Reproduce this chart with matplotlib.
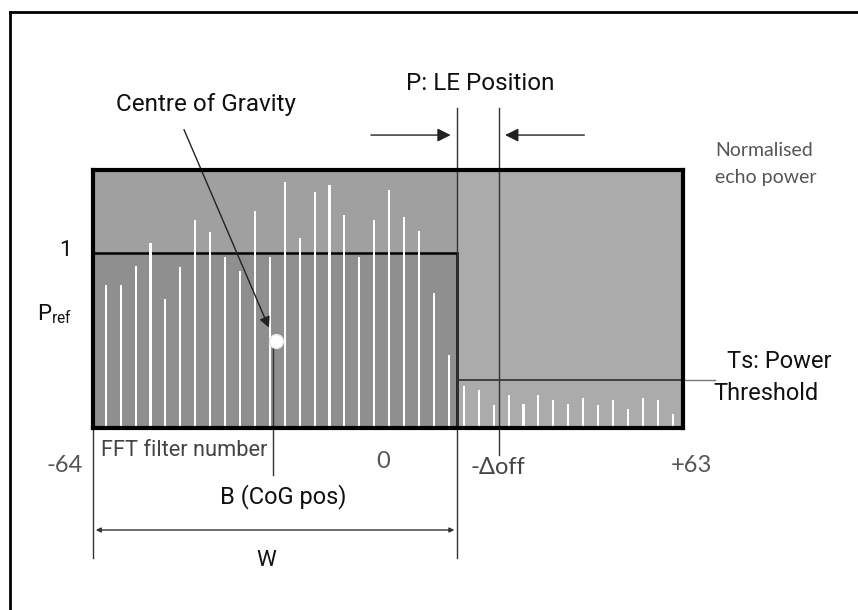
import numpy as np
import matplotlib.pyplot as plt
from matplotlib.patches import Rectangle

# ===============================
# Data (normalised echo power per displayed FFT line)
# ===============================
power_left = [0.82, 0.82, 0.93, 1.06, 0.74, 0.92, 1.19, 1.12, 0.98, 0.90,
              1.24, 0.98, 1.41, 1.09, 1.35, 1.39, 1.22, 0.98, 1.19, 1.36,
              1.21, 1.13, 0.77, 0.42]
power_right = [0.24, 0.22, 0.13, 0.19, 0.14, 0.19, 0.16, 0.14, 0.17, 0.13,
               0.16, 0.11, 0.17, 0.16, 0.08]

FILTER_MIN, FILTER_MAX = -64, 64
BOX_TOP = 1.477          # top of the window in normalised power
P_REF = 1.0              # reference power level
THRESHOLD = 0.275        # Ts
LE_POS = 15              # P: leading edge position
DELTA_OFF = 24           # -Δoff marker
COG_POS = -25            # B: centre of gravity
COG_POWER = 0.50
BAR_START, BAR_STEP = -61.24, 3.237

powers = power_left + power_right
bar_x = BAR_START + BAR_STEP * np.arange(len(powers))

# ===============================
# Figure
# ===============================
fig = plt.figure(figsize=(8.58, 6.10), dpi=100)

# overlay in pixel coordinates for labels / frame
ov = fig.add_axes([0, 0, 1, 1])
ov.set_xlim(0, 858)
ov.set_ylim(610, 0)
ov.axis('off')

# data axes for the echo window
ax = fig.add_axes([93 / 858, (610 - 428) / 610, 590 / 858, 258 / 610])
ax.set_xlim(FILTER_MIN, FILTER_MAX)
ax.set_ylim(0, BOX_TOP)
ax.set_xticks([])
ax.set_yticks([])
ax.set_facecolor('#ababab')
for s in ax.spines.values():
    s.set_linewidth(3)
    s.set_color('black')
    s.set_zorder(10)

ax.add_patch(Rectangle((FILTER_MIN, 0), LE_POS - FILTER_MIN, BOX_TOP,
                       facecolor='#a0a0a0', edgecolor='none', zorder=1))
ax.add_patch(Rectangle((FILTER_MIN, 0), LE_POS - FILTER_MIN, P_REF,
                       facecolor='#8f8f8f', edgecolor='black', lw=1.8, zorder=2))

ax.bar(bar_x, powers, width=0.45, color='white', edgecolor='none', zorder=3)

# threshold line
ax.plot([LE_POS, FILTER_MAX], [THRESHOLD, THRESHOLD], color='#303030', lw=1.2, zorder=4)
ax.plot([FILTER_MAX, 71], [THRESHOLD, THRESHOLD], color='#777777', lw=1, clip_on=False)

# vertical markers
ax.plot([LE_POS, LE_POS], [-0.744, 1.832], color='#333333', lw=1, clip_on=False, zorder=5)
ax.plot([DELTA_OFF, DELTA_OFF], [-0.155, 1.832], color='#333333', lw=1, clip_on=False, zorder=5)
ax.plot([FILTER_MIN, FILTER_MIN], [-0.744, 0], color='#333333', lw=1, clip_on=False)
ax.plot([COG_POS, COG_POS], [-0.27, COG_POWER], color='#333333', lw=1, clip_on=False, zorder=5)
ax.scatter([COG_POS + 0.6], [COG_POWER], s=100, color='white', edgecolor='#e8e8e8', zorder=6)

# W span arrow
ax.annotate('', xy=(LE_POS, -0.584), xytext=(FILTER_MIN, -0.584),
            arrowprops=dict(arrowstyle='<|-|>', color='#333333', lw=1, mutation_scale=7),
            annotation_clip=False)

# centre of gravity pointer
ax.annotate('', xy=(COG_POS - 0.6, COG_POWER + 0.06), xytext=(-44.5, 1.723),
            arrowprops=dict(arrowstyle='-|>', color='#222222', lw=1, mutation_scale=16),
            annotation_clip=False)

# LE position arrows
ax.annotate('', xy=(LE_POS - 0.8, 1.677), xytext=(-4.3, 1.677),
            arrowprops=dict(arrowstyle='-|>', color='#222222', lw=1, mutation_scale=20),
            annotation_clip=False)
ax.annotate('', xy=(DELTA_OFF + 0.8, 1.677), xytext=(43.2, 1.677),
            arrowprops=dict(arrowstyle='-|>', color='#222222', lw=1, mutation_scale=20),
            annotation_clip=False)

# outer frame
ov.plot([10, 858], [12, 12], color='black', lw=2)
ov.plot([10, 10], [12, 610], color='black', lw=2)

lab = ['Roboto', 'DejaVu Sans']
num = ['Lato', 'DejaVu Sans']
ov.text(480, 83, 'P: LE Position', fontsize=17.5, family=lab, ha='center', va='center', color='#111111')
ov.text(206, 105, 'Centre of Gravity', fontsize=17.5, family=lab, ha='center', va='center', color='#111111')
ov.text(715, 150, 'Normalised', fontsize=14, family=num, ha='left', va='center', color='#555555')
ov.text(715, 178, 'echo power', fontsize=14, family=num, ha='left', va='center', color='#555555')
ov.text(65, 251, '1', fontsize=16, family=lab, ha='center', va='center', color='#111111')
ov.text(37, 314, r'P$_{\mathregular{ref}}$', fontsize=16, family=lab, ha='left', va='center', color='#111111')
ov.text(727, 362, 'Ts: Power', fontsize=17, family=lab, ha='left', va='center', color='#111111')
ov.text(713, 394, 'Threshold', fontsize=17, family=lab, ha='left', va='center', color='#111111')
ov.text(101, 450, 'FFT filter number', fontsize=15.7, family=lab, ha='left', va='center', color='#444444')
ov.text(65, 465, '-64', fontsize=17, family=num, ha='center', va='center', color='#555555')
ov.text(383, 462, '0', fontsize=17, family=num, ha='center', va='center', color='#555555')
ov.text(470, 468, '-Δoff', fontsize=17, family=num, ha='left', va='center', color='#444444')
ov.text(691, 465, '+63', fontsize=17, family=num, ha='center', va='center', color='#555555')
ov.text(283, 497, 'B (CoG pos)', fontsize=17, family=lab, ha='center', va='center', color='#111111')
ov.text(266, 560, 'W', fontsize=16, family=lab, ha='center', va='center', color='#111111')

fig.savefig('out.png', dpi=100, facecolor='white')
